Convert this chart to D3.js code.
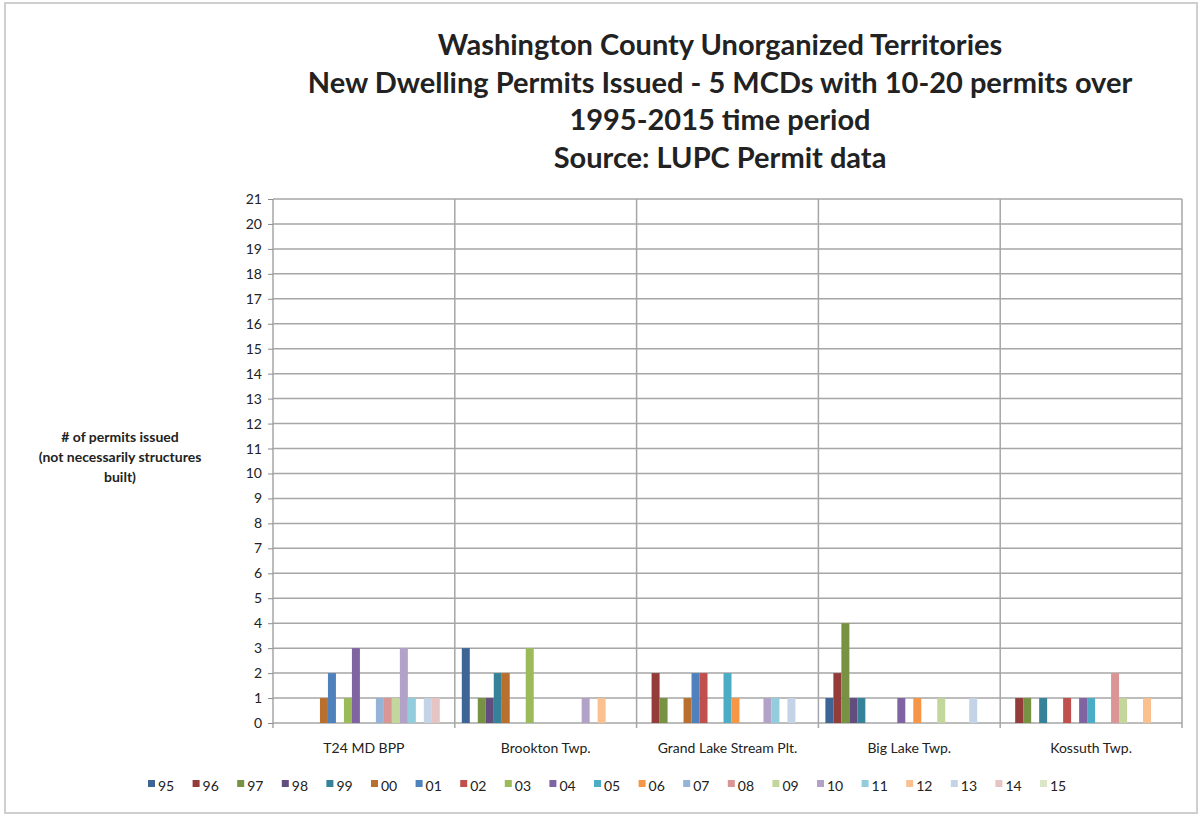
<!DOCTYPE html>
<html>
<head>
<meta charset="utf-8">
<script src="https://cdn.jsdelivr.net/npm/d3@7"></script>
<style>
  body { margin: 0; background: #fff; }
  text { font-family: Lato, "Open Sans", sans-serif; fill: #222; }
  .grid line { stroke: #a6a6a6; stroke-width: 1.5; }
  .axis path, .axis line { stroke: #8c8c8c; }
</style>
</head>
<body>
<div id="chart"></div>
<script>
// categories (MCDs) and series (permit years)
const places = ["T24 MD BPP", "Brookton Twp.", "Grand Lake Stream Plt.", "Big Lake Twp.", "Kossuth Twp."]
const years = ["95","96","97","98","99","00","01","02","03","04","05","06","07","08","09","10","11","12","13","14","15"]

// permits per year, one array per MCD (order follows years)
const t24       = [0,0,0,0,0,1,2,0,1,3,0,0,1,1,1,3,1,0,1,1,0]
const brookton  = [3,0,1,1,2,2,0,0,3,0,0,0,0,0,0,1,0,1,0,0,0]
const grandLake = [0,2,1,0,0,1,2,2,0,0,2,1,0,0,0,1,1,0,1,0,0]
const bigLake   = [1,2,4,1,1,0,0,0,0,1,0,1,0,0,1,0,0,0,1,0,0]
const kossuth   = [0,1,1,0,1,0,0,1,0,1,1,0,0,2,1,0,0,1,0,0,0]

const yTicks = d3.range(0, 22)

// Excel-style palette: darker accents, accents, lighter accents, tints
const colors = ["#3c6494","#943c39","#779242","#634d7e","#368399","#b9702f",
                "#4f81bd","#c0504d","#9bbb59","#8064a2","#4bacc6","#f79646",
                "#95b3d7","#d99694","#c3d69b","#b3a2c7","#93cddd","#fac090",
                "#c5d3e6","#e6c4c3","#dbe6c6"]

const rows = [t24, brookton, grandLake, bigLake, kossuth]
const data = places.map((p, i) => ({place: p, values: years.map((y, j) => ({year: y, v: rows[i][j]}))}))

const svgWidth = 1201, svgHeight = 817
const svg = d3.select("#chart").append("svg")
  .attr("width", svgWidth)
  .attr("height", svgHeight)

// frame around the chart
svg.append("rect")
  .attr("x", 5).attr("y", 3).attr("width", 1192).attr("height", 810)
  .attr("fill", "none").attr("stroke", "#cfcfcf").attr("stroke-width", 2)

const margin = {top: 199, right: 19, bottom: 94, left: 273}
const width = svgWidth - margin.left - margin.right
const height = svgHeight - margin.top - margin.bottom

const x0 = d3.scaleBand().domain(places).range([0, width]).paddingInner(0.077).paddingOuter(0.0385)
const x1 = d3.scaleBand().domain(years).range([0, x0.bandwidth()])
const y = d3.scaleLinear().domain([0, 21]).range([height, 0])
const color = d3.scaleOrdinal().domain(years).range(colors)

const g = svg.append("g").attr("transform", "translate(" + margin.left + "," + margin.top + ")")

// horizontal gridlines
g.append("g").attr("class", "grid")
  .selectAll("line").data(yTicks).enter().append("line")
  .attr("x1", 0).attr("x2", width)
  .attr("y1", d => y(d)).attr("y2", d => y(d))

// vertical category separators
const step = width / places.length
g.append("g").attr("class", "grid")
  .selectAll("line").data(d3.range(0, places.length + 1)).enter().append("line")
  .attr("x1", d => d * step).attr("x2", d => d * step)
  .attr("y1", 0).attr("y2", height + 5)

// y axis
const yAxis = g.append("g").attr("class", "axis")
  .call(d3.axisLeft(y).tickValues(yTicks).tickSize(5).tickPadding(6))
yAxis.select(".domain").remove()
yAxis.selectAll("text").style("font-size", "14px").attr("fill", "#333")

// bars
g.selectAll(".place")
  .data(data)
  .enter().append("g")
    .attr("class", "place")
    .attr("transform", d => "translate(" + x0(d.place) + ",0)")
  .selectAll("rect")
  .data(d => d.values)
  .enter().append("rect")
    .attr("x", d => x1(d.year))
    .attr("y", d => y(d.v))
    .attr("width", x1.bandwidth())
    .attr("height", d => height - y(d.v))
    .attr("fill", d => color(d.year))

// category labels
g.selectAll(".cat")
  .data(places)
  .enter().append("text")
    .attr("x", d => x0(d) + x0.bandwidth() / 2)
    .attr("y", height + 30)
    .attr("text-anchor", "middle")
    .style("font-size", "14px")
    .attr("fill", "#333")
    .text(d => d)

// title
const titleLines = ["Washington County Unorganized Territories",
  "New Dwelling Permits Issued - 5 MCDs with 10-20 permits over",
  "1995-2015 time period",
  "Source: LUPC Permit data"]
svg.selectAll(".title")
  .data(titleLines)
  .enter().append("text")
    .attr("x", 720)
    .attr("y", (d, i) => 55 + i * 37.5)
    .attr("text-anchor", "middle")
    .style("font-size", "29px")
    .style("font-weight", "bold")
    .attr("fill", "#111")
    .text(d => d)

// y axis title
const yTitle = ["# of permits issued", "(not necessarily structures", "built)"]
svg.selectAll(".ytitle")
  .data(yTitle)
  .enter().append("text")
    .attr("x", 120)
    .attr("y", (d, i) => 442 + i * 20)
    .attr("text-anchor", "middle")
    .style("font-size", "14px")
    .style("font-weight", "bold")
    .attr("fill", "#222")
    .text(d => d)

// legend
const legend = svg.append("g").attr("transform", "translate(148,786)")
const item = legend.selectAll(".item")
  .data(years)
  .enter().append("g")
    .attr("transform", (d, i) => "translate(" + (i * 44.6) + ",0)")
item.append("rect")
  .attr("x", 0).attr("y", -6).attr("width", 7).attr("height", 7)
  .attr("fill", d => color(d))
item.append("text")
  .attr("x", 10).attr("y", 4.5)
  .style("font-size", "14px")
  .attr("fill", "#333")
  .text(d => d)
</script>
</body>
</html>
